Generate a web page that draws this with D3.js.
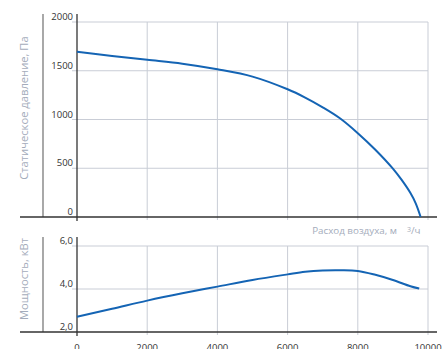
<!DOCTYPE html>
<html>
<head>
<meta charset="utf-8">
<script src="https://cdn.jsdelivr.net/npm/d3@7"></script>
<style>
  body { margin: 0; background: #fff; }
  svg { display: block; font-family: "Open Sans", sans-serif; }
</style>
</head>
<body>
<div id="chart"></div>
<script>
// fan curve: static pressure and power against air flow

const flowTicks = [0, 2000, 4000, 6000, 8000, 10000];
const pressureTicks = [0, 500, 1000, 1500, 2000];
const powerTicks = [2, 4, 6];

const pressureFlow =   [0, 1000, 2000, 3000, 4000, 5000, 6000, 6500, 7000, 7500, 8000, 8500, 9000, 9250, 9500, 9650, 9790];
const pressureValues = [1695, 1652, 1612, 1572, 1515, 1440, 1310, 1225, 1125, 1010, 860, 690, 496, 380, 245, 140, 0];

const powerFlow =   [0, 1000, 2000, 3000, 4000, 5000, 6000, 6500, 7000, 7500, 8000, 8500, 9000, 9500, 9750];
const powerValues = [2.71, 3.08, 3.46, 3.8, 4.11, 4.42, 4.68, 4.8, 4.86, 4.87, 4.84, 4.66, 4.42, 4.13, 4.02];

const W = 448, H = 349;
const gridColor = "#c9cdd6";
const axisColor = "#333";
const titleColor = "#a4acbb";
const lineColor = "#1464b4";

const svg = d3.select("#chart").append("svg")
  .attr("width", W).attr("height", H);

const x = d3.scaleLinear().domain([0, 10000]).range([77, 428]);
const yP = d3.scaleLinear().domain([0, 2000]).range([217, 22]);
const yW = d3.scaleLinear().domain([2, 6]).range([332, 246]);

function panel(y, ticks, fmt, top, bottom) {
  const g = svg.append("g");
  // horizontal grid
  g.selectAll(".hg").data(ticks.slice(1)).enter().append("line")
    .attr("x1", 72).attr("x2", x(10000))
    .attr("y1", d => y(d)).attr("y2", d => y(d))
    .attr("stroke", gridColor).attr("stroke-width", 1);
  // vertical grid
  g.selectAll(".vg").data(flowTicks.slice(1)).enter().append("line")
    .attr("x1", d => x(d)).attr("x2", d => x(d))
    .attr("y1", y(ticks[ticks.length - 1])).attr("y2", bottom + 3)
    .attr("stroke", gridColor).attr("stroke-width", 1);
  // left grey line
  g.append("line").attr("x1", 43).attr("x2", 43)
    .attr("y1", top).attr("y2", bottom)
    .attr("stroke", "#7a7a7a").attr("stroke-width", 1.3);
  // y axis
  g.append("line").attr("x1", 77).attr("x2", 77)
    .attr("y1", top).attr("y2", bottom + 4)
    .attr("stroke", axisColor).attr("stroke-width", 1.3);
  // x axis
  g.append("line").attr("x1", 20).attr("x2", 437)
    .attr("y1", bottom).attr("y2", bottom)
    .attr("stroke", axisColor).attr("stroke-width", 1.3);
  // tick labels
  g.selectAll(".tl").data(ticks).enter().append("text")
    .attr("x", 73).attr("y", d => y(d) - 2)
    .attr("text-anchor", "end")
    .attr("font-size", 9.5).attr("fill", axisColor)
    .text(fmt);
}

panel(yP, pressureTicks, d => d, 14, 217);
panel(yW, powerTicks, d => d3.format(".1f")(d).replace(".", ","), 237, 332);

// x tick labels under the lower panel
svg.selectAll(".xl").data(flowTicks).enter().append("text")
  .attr("x", d => x(d)).attr("y", 351)
  .attr("text-anchor", "middle")
  .attr("font-size", 9.5).attr("fill", axisColor)
  .text(d => d);

// curves
const pLine = d3.line().x(d => x(d[0])).y(d => yP(d[1])).curve(d3.curveCatmullRom);
svg.append("path")
  .datum(d3.zip(pressureFlow, pressureValues))
  .attr("d", pLine)
  .attr("fill", "none").attr("stroke", lineColor).attr("stroke-width", 2);

const wLine = d3.line().x(d => x(d[0])).y(d => yW(d[1])).curve(d3.curveCatmullRom);
svg.append("path")
  .datum(d3.zip(powerFlow, powerValues))
  .attr("d", wLine)
  .attr("fill", "none").attr("stroke", lineColor).attr("stroke-width", 2);

// axis titles
svg.append("text")
  .attr("transform", "translate(28,108) rotate(-90)")
  .attr("text-anchor", "middle")
  .attr("font-size", 11.2).attr("fill", titleColor)
  .text("Статическое давление, Па");

svg.append("text")
  .attr("transform", "translate(28,279) rotate(-90)")
  .attr("text-anchor", "middle")
  .attr("font-size", 11.2).attr("fill", titleColor)
  .text("Мощность, кВт");

svg.append("text")
  .attr("x", 397).attr("y", 234)
  .attr("text-anchor", "end")
  .attr("font-size", 9.8).attr("fill", titleColor)
  .text("Расход воздуха, м");
const unit = svg.append("text")
  .attr("x", 407).attr("y", 234)
  .attr("font-size", 9.8).attr("fill", titleColor);
unit.append("tspan").attr("font-size", 7).attr("dy", -2).text("3");
unit.append("tspan").attr("dy", 2).text("/ч");
</script>
</body>
</html>
